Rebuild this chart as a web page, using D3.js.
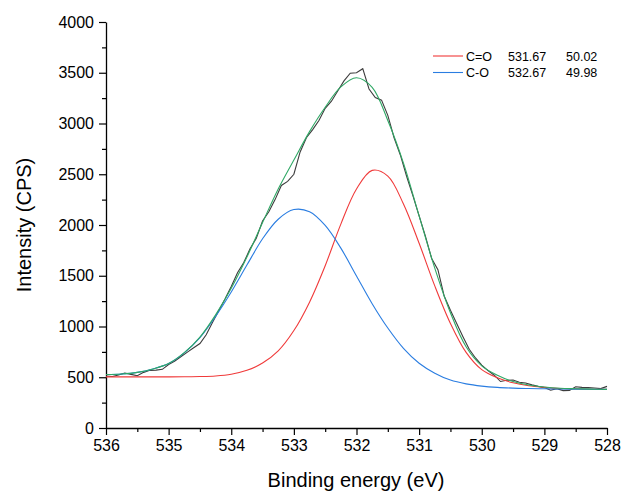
<!DOCTYPE html>
<html><head><meta charset="utf-8">
<script src="https://cdn.jsdelivr.net/npm/d3@7"></script>
<style>
body{margin:0;background:#fff}
text{font-family:Arial,"Liberation Sans",sans-serif;fill:#000}
</style>
</head><body>
<svg id="chart" width="624" height="496"></svg>
<script>
// ---------- data ----------
const fitBE = [536, 535.75, 535.5, 535.25, 535, 534.75, 534.5, 534.25, 534, 533.75, 533.5, 533.25, 533, 532.75, 532.5, 532.25, 532, 531.75, 531.5, 531.25, 531, 530.75, 530.5, 530.25, 530, 529.75, 529.5, 529.25, 529, 528.75, 528.5, 528.25, 528];
const coFit = [504, 504, 504, 504, 504, 505, 507, 513, 530, 568, 640, 760, 960, 1240, 1599, 2009, 2355, 2538, 2482, 2207, 1820, 1400, 1030, 745, 575, 495, 445, 416, 400, 389, 385, 382, 381];
const cOFit = [527, 532, 548, 582, 635, 740, 890, 1100, 1340, 1605, 1864, 2057, 2152, 2131, 1996, 1772, 1498, 1225, 985, 785, 638, 540, 472, 435, 413, 400, 393, 389, 386, 384, 383, 382, 381];
const envelope = [527, 532, 548, 582, 635, 742, 896, 1115, 1376, 1684, 2024, 2355, 2640, 2920, 3160, 3360, 3450, 3355, 3030, 2610, 2090, 1575, 1135, 800, 612, 520, 458, 424, 404, 392, 387, 383, 381];

const rawBE = [536.0, 535.9, 535.8, 535.7, 535.6, 535.5, 535.4, 535.3, 535.2, 535.1,
  535.0, 534.9, 534.8, 534.7, 534.6, 534.5, 534.4, 534.3, 534.2, 534.1,
  534.0, 533.9, 533.8, 533.7, 533.6, 533.5, 533.4, 533.3, 533.2, 533.1,
  533.0, 532.9, 532.8, 532.7, 532.6, 532.5, 532.4, 532.3, 532.2, 532.1,
  532.0, 531.9, 531.8, 531.7, 531.6, 531.5, 531.4, 531.3, 531.2, 531.1,
  531.0, 530.9, 530.8, 530.7, 530.6, 530.5, 530.4, 530.3, 530.2, 530.1,
  530.0, 529.9, 529.8, 529.7, 529.6, 529.5, 529.4, 529.3, 529.2, 529.1,
  529.0, 528.9, 528.8, 528.7, 528.6, 528.5, 528.4, 528.3, 528.2, 528.1, 528.0];
const rawCounts = [512, 508, 522, 542, 528, 515, 548, 568, 570, 578,
  625, 660, 705, 748, 790, 832, 918, 1040, 1155, 1270,
  1395, 1530, 1630, 1765, 1870, 2040, 2130, 2250, 2390, 2430,
  2500, 2720, 2860, 2940, 3030, 3150, 3220, 3320, 3420, 3495,
  3500, 3540, 3340, 3255, 3230, 3080, 2860, 2690, 2480, 2290,
  2090, 1890, 1670, 1560, 1300, 1160, 1030, 900, 775, 690,
  620, 565, 520, 458, 470, 472, 450, 444, 425, 410,
  398, 372, 388, 368, 370, 406, 400, 398, 394, 388, 410];

const xTicks = [536, 535, 534, 533, 532, 531, 530, 529, 528];
const xMinorTicks = [535.5, 534.5, 533.5, 532.5, 531.5, 530.5, 529.5, 528.5];
const yTicks = [0, 500, 1000, 1500, 2000, 2500, 3000, 3500, 4000];
const yMinorTicks = [250, 750, 1250, 1750, 2250, 2750, 3250, 3750];

const legendNames = ["C=O", "C-O"];
const legendPositions = ["531.67", "532.67"];
const legendAreas = ["50.02", "49.98"];

const xTitle = "Binding energy (eV)";
const yTitle = "Intensity (CPS)";

// ---------- drawing ----------
const colors = {raw: "#3c3c3c", co: "#f03a3a", cO: "#2a7de1", env: "#2fa865"};

const svg = d3.select("#chart");
const x = d3.scaleLinear().domain([536, 528]).range([106, 607]);
const y = d3.scaleLinear().domain([0, 4000]).range([428, 22]);

// axes
svg.append("g").attr("transform", "translate(0,428)")
  .call(d3.axisBottom(x).tickValues(xTicks).tickSize(7).tickSizeOuter(0).tickPadding(5).tickFormat(d3.format("d")));
const xMinor = svg.append("g").attr("transform", "translate(0,428)")
  .call(d3.axisBottom(x).tickValues(xMinorTicks).tickSize(4).tickSizeOuter(0).tickFormat(""));
xMinor.select(".domain").remove();

svg.append("g").attr("transform", "translate(106,0)")
  .call(d3.axisLeft(y).tickValues(yTicks).tickSize(7).tickSizeOuter(0).tickPadding(5).tickFormat(d3.format("d")));
const yMinor = svg.append("g").attr("transform", "translate(106,0)")
  .call(d3.axisLeft(y).tickValues(yMinorTicks).tickSize(4).tickSizeOuter(0).tickFormat(""));
yMinor.select(".domain").remove();

svg.selectAll(".domain").attr("stroke", "#000").attr("stroke-width", 1.3);
svg.selectAll(".tick line").attr("stroke", "#000").attr("stroke-width", 1.2);
svg.selectAll(".tick text").style("font-size", "16px").style("font-family", "Arial, 'Liberation Sans', sans-serif").attr("fill", "#000");

// titles
svg.append("text").attr("x", 356).attr("y", 487).attr("text-anchor", "middle")
  .style("font-size", "20px").text(xTitle);
svg.append("text").attr("transform", "translate(31,225) rotate(-90)").attr("text-anchor", "middle")
  .style("font-size", "20px").text(yTitle);

// lines
const fitLine = (vals) => d3.line()
  .x((d, i) => x(fitBE[i]))
  .y(d => y(d))
  .curve(d3.curveCatmullRom.alpha(0.5))(vals);

const rawLine = d3.line()
  .x((d, i) => x(rawBE[i]))
  .y(d => y(d));

svg.append("path").attr("d", rawLine(rawCounts))
  .attr("fill", "none").attr("stroke", colors.raw).attr("stroke-width", 1.1);
svg.append("path").attr("d", fitLine(coFit))
  .attr("fill", "none").attr("stroke", colors.co).attr("stroke-width", 1.1);
svg.append("path").attr("d", fitLine(cOFit))
  .attr("fill", "none").attr("stroke", colors.cO).attr("stroke-width", 1.1);
svg.append("path").attr("d", fitLine(envelope))
  .attr("fill", "none").attr("stroke", colors.env).attr("stroke-width", 1.1);

// legend
const legColors = [colors.co, colors.cO];
const leg = svg.append("g");
legendNames.forEach((name, i) => {
  const yy = 56 + i * 16.5;
  leg.append("line").attr("x1", 433).attr("x2", 463).attr("y1", yy).attr("y2", yy)
    .attr("stroke", legColors[i]).attr("stroke-width", 1.1);
  leg.append("text").attr("x", 466).attr("y", yy + 4.5).style("font-size", "12.5px").text(name);
  leg.append("text").attr("x", 508).attr("y", yy + 4.5).style("font-size", "12.5px").text(legendPositions[i]);
  leg.append("text").attr("x", 566).attr("y", yy + 4.5).style("font-size", "12.5px").text(legendAreas[i]);
});
</script>
</body></html>
